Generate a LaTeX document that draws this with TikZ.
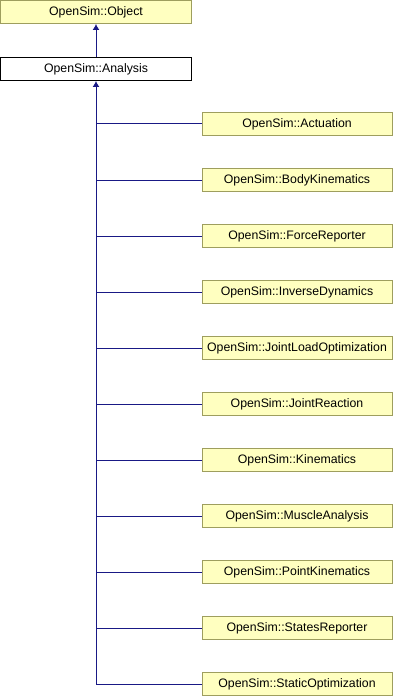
\documentclass[tikz,border=0pt]{standalone}
\usepackage{fontspec}
\setmainfont{Liberation Sans}
\usetikzlibrary{arrows.meta}

\definecolor{classfill}{HTML}{FFFFC0}
\definecolor{classedge}{HTML}{9E9E5E}
\definecolor{inheritline}{HTML}{191985}

\begin{document}
\begin{tikzpicture}[x=1bp,y=-1bp]
\tikzstyle{every node}+=[inner sep=0pt]
\tikzstyle{classbox}=[draw=classedge,fill=classfill,line width=1bp,
  minimum width=190bp,minimum height=23bp,
  font=\fontsize{12.3bp}{14bp}\selectfont]
\tikzstyle{basebox}=[classbox,draw=black,fill=white]
\tikzstyle{inherit}=[draw=inheritline,line width=1bp]
\tikzstyle{tip}=[-{Latex[length=6bp,width=7bp]}]
\useasboundingbox (0,0) rectangle (394,696);
% base classes
\node [classbox,minimum width=191bp] (object) at (96,12) {OpenSim::Object};
\node [basebox,minimum width=191bp] (analysis) at (96,69) {OpenSim::Analysis};
\draw [inherit,tip] (analysis) -- (object);
% derived analyses
\node [classbox] (actuation) at (297,124) {OpenSim::Actuation};
\node [classbox] (bodykin) at (297,180) {OpenSim::BodyKinematics};
\node [classbox] (forcerep) at (297,236) {OpenSim::ForceReporter};
\node [classbox] (invdyn) at (297,292) {OpenSim::InverseDynamics};
\node [classbox] (jointloadopt) at (297,348) {OpenSim::JointLoadOptimization};
\node [classbox] (jointreact) at (297,404) {OpenSim::JointReaction};
\node [classbox] (kinematics) at (297,460) {OpenSim::Kinematics};
\node [classbox] (muscle) at (297,516) {OpenSim::MuscleAnalysis};
\node [classbox] (pointkin) at (297,572) {OpenSim::PointKinematics};
\node [classbox] (statesrep) at (297,628) {OpenSim::StatesReporter};
\node [classbox] (staticopt) at (297,684) {OpenSim::StaticOptimization};
% trunk down from Analysis, branches to each class
\coordinate (trunk) at (96,684);
\draw [inherit,tip] (trunk) -- (analysis);
\draw [inherit] (trunk |- actuation) -- (actuation);
\draw [inherit] (trunk |- bodykin) -- (bodykin);
\draw [inherit] (trunk |- forcerep) -- (forcerep);
\draw [inherit] (trunk |- invdyn) -- (invdyn);
\draw [inherit] (trunk |- jointloadopt) -- (jointloadopt);
\draw [inherit] (trunk |- jointreact) -- (jointreact);
\draw [inherit] (trunk |- kinematics) -- (kinematics);
\draw [inherit] (trunk |- muscle) -- (muscle);
\draw [inherit] (trunk |- pointkin) -- (pointkin);
\draw [inherit] (trunk |- statesrep) -- (statesrep);
\draw [inherit] (trunk) -- (staticopt);
\end{tikzpicture}
\end{document}
